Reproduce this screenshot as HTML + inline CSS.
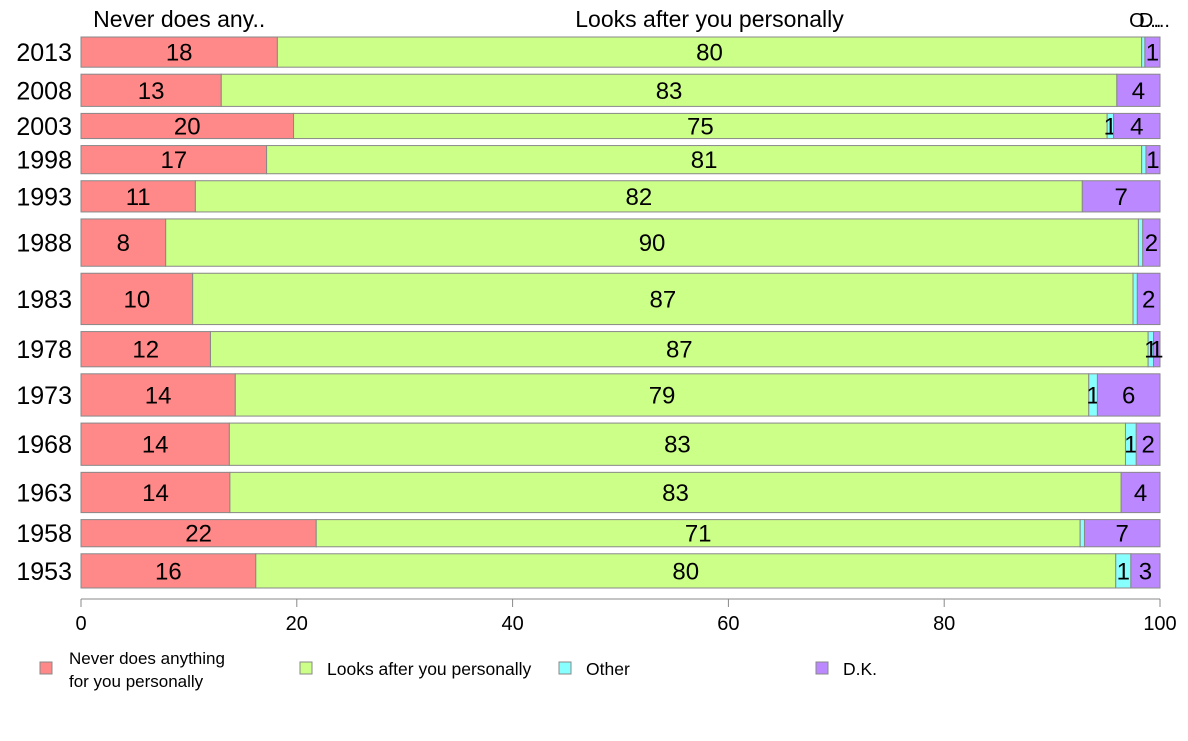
<!DOCTYPE html>
<html><head><meta charset="utf-8"><style>
body{margin:0;background:#fff;width:1188px;height:736px;overflow:hidden;font-family:"Liberation Sans",sans-serif}
svg text{font-family:"Liberation Sans",sans-serif}
</style></head><body>
<svg id="chart" width="1188" height="736" xmlns="http://www.w3.org/2000/svg"></svg>
<script>
const years = ["2013","2008","2003","1998","1993","1988","1983","1978","1973","1968","1963","1958","1953"];
const weights = [30,32,25,28,31,47,51,35,42,42,40,27,34];
const neverVals = [18.2,13.0,19.7,17.2,10.6,7.85,10.35,12.0,14.3,13.75,13.8,21.8,16.2];
const looksVals = [80.1,83.0,75.4,81.1,82.2,90.15,87.15,86.9,79.1,83.05,82.6,70.8,79.7];
const otherVals = [0.3,0,0.6,0.4,0,0.4,0.4,0.5,0.8,1.0,0,0.4,1.4];
const dkVals = [1.4,4.0,4.3,1.3,7.2,1.6,2.1,0.6,5.8,2.2,3.6,7.0,2.7];
const seriesNames = ["Never does anything for you personally","Looks after you personally","Other","D.K."];
const headerLabels = ["Never does any..","Looks after you personally","O...","D..."];
const xTicks = [0,20,40,60,80,100];

const colors = ["#ff8888","#ccff88","#88ffff","#bb88ff"];
const NS = "http://www.w3.org/2000/svg";
const svg = document.getElementById("chart");
const X0 = 81, X1 = 1160, TOP = 37, BOT = 588, GAP = 7;
const xs = v => X0 + (X1 - X0) * v / 100;
function mk(tag, attrs, parent){const e=document.createElementNS(NS,tag);for(const k in attrs)e.setAttribute(k,attrs[k]);(parent||svg).appendChild(e);return e;}

const totalW = weights.reduce((a,b)=>a+b,0);
const avail = (BOT - TOP) - GAP*(years.length-1);
let y = TOP;
const series = [neverVals, looksVals, otherVals, dkVals];
years.forEach((yr,i)=>{
  const h = avail * weights[i] / totalW;
  const g = mk("g",{});
  
  
  const tot = series.reduce((a,s)=>a+s[i],0);
  let acc = 0;
  series.forEach((s,j)=>{
    const v = s[i] / tot * 100;
    if (v > 0) {
      const r = mk("rect",{x:xs(acc),y:y,width:xs(acc+v)-xs(acc),height:h,fill:colors[j],stroke:"#888",'stroke-width':1},g);
      
      
      const lbl = Math.round(s[i]);
      if (lbl >= 1) {
        const t = mk("text",{x:(xs(acc)+xs(acc+v))/2,y:y+h/2+8.5,'text-anchor':'middle','font-size':24,fill:'#000'},g);
        t.textContent = lbl;
        
        
      }
    }
    acc += v;
  });
  const yl = mk("text",{x:72,y:y+h/2+9,'text-anchor':'end','font-size':25,fill:'#000'});
  yl.textContent = yr;
  
  
  y += h + GAP;
});

(function(){
  const tot = series.reduce((a,s)=>a+s[0],0);
  let acc=0;
  series.forEach((s,j)=>{
    const v=s[0]/tot*100;
    const cx=(xs(acc)+xs(acc+v))/2;
    const t=mk("text",{x:j>=2?cx+2:cx,y:27,'text-anchor':'middle','font-size':j>=2?20:23,fill:'#000'});
    t.textContent=headerLabels[j];
    
    
    acc+=v;
  });
})();

const ax = mk("line",{x1:X0,x2:X1,y1:599,y2:599,stroke:'#888','stroke-width':1});


xTicks.forEach(v=>{
  const tk = mk("line",{x1:xs(v),x2:xs(v),y1:599,y2:607,stroke:'#888'});
  
  
  const t = mk("text",{x:xs(v),y:630,'text-anchor':'middle','font-size':20,fill:'#000'});
  t.textContent=v;
  
  
});

const legX=[40,300,559,816];
seriesNames.forEach((n,j)=>{
  const g=mk("g",{});
  
  
  mk("rect",{x:legX[j],y:662,width:12,height:12,fill:colors[j],stroke:'#888'},g);
  if(j===0){
    const t1=mk("text",{x:69,y:664,'font-size':17},g);t1.textContent="Never does anything";
    const t2=mk("text",{x:69,y:687,'font-size':17},g);t2.textContent="for you personally";
  } else {
    const t=mk("text",{x:legX[j]+27,y:675,'font-size':17.5},g);t.textContent=n;
  }
});
</script>
</body></html>
